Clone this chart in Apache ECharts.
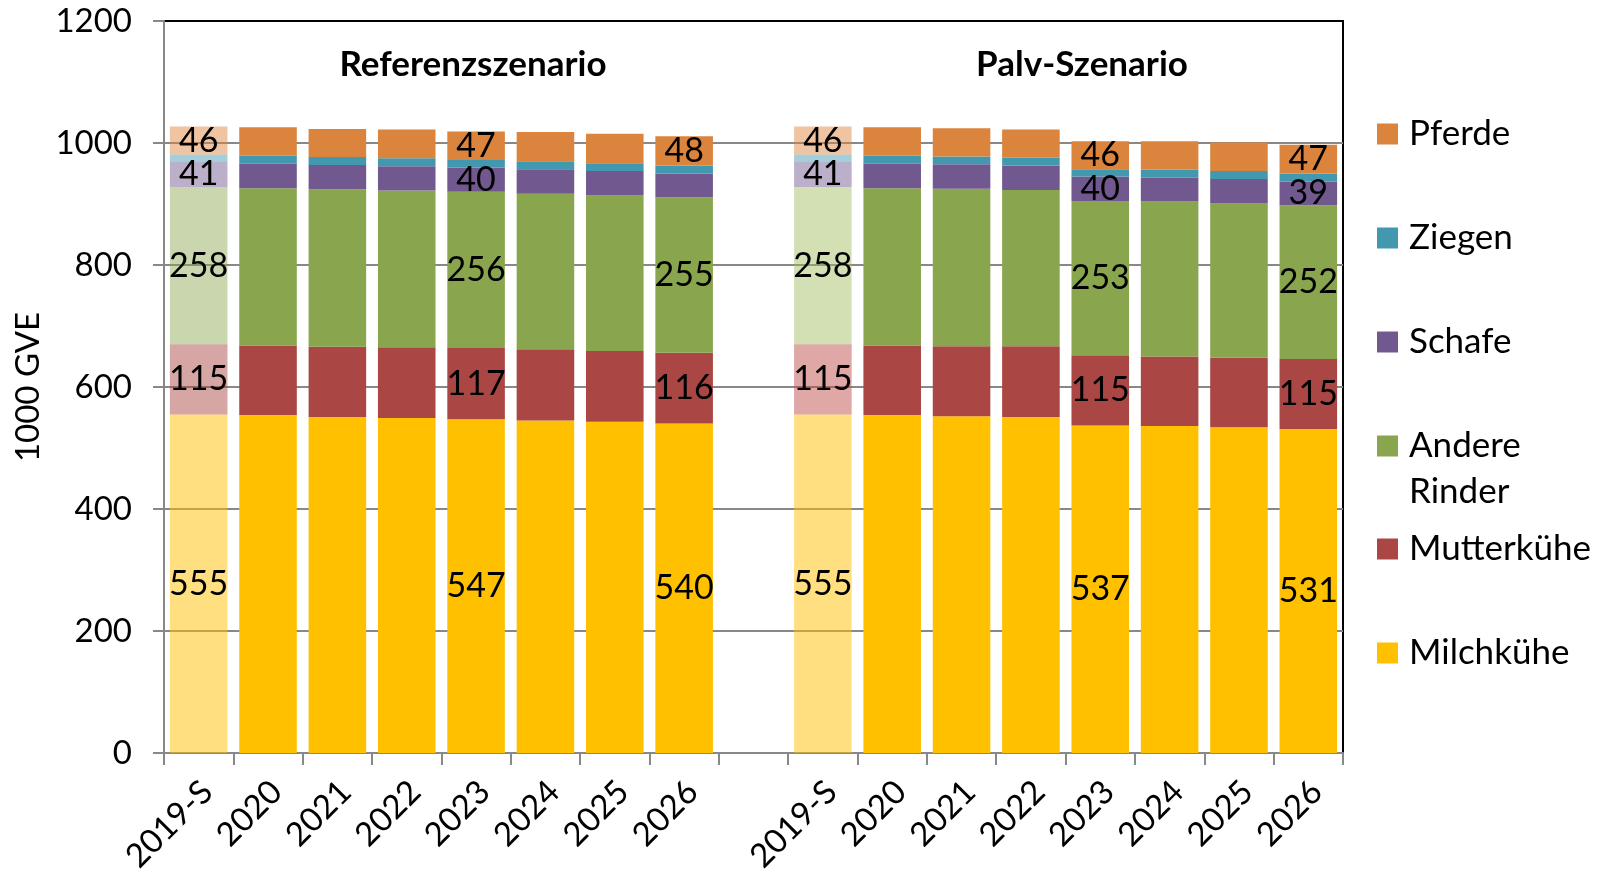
<!DOCTYPE html>
<html>
<head>
<meta charset="utf-8">
<title>GVE Referenz- und Palv-Szenario</title>
<script src="https://cdn.jsdelivr.net/npm/echarts@6/dist/echarts.min.js"></script>
<style>
  html, body { margin: 0; padding: 0; background: #fff; }
  #chart { width: 1608px; height: 875px; }
</style>
</head>
<body>
<div id="chart"></div>
<script>
// categories: two scenarios, empty slot between them
const categories = ['2019-S', '2020', '2021', '2022', '2023', '2024', '2025', '2026', '',
  '2019-S', '2020', '2021', '2022', '2023', '2024', '2025', '2026'];

// 1000 GVE per animal group
const milchkuehe = [555, 554, 551, 549, 547, 545, 543, 540, null, 555, 554, 552, 551, 537, 536, 534, 531];
const mutterkuehe = [115, 114, 115, 116, 117, 117, 116, 116, null, 115, 114, 115, 116, 115, 114, 114, 115];
const andereRinder = [258, 258, 258, 257, 256, 255, 255, 255, null, 258, 258, 258, 256, 253, 254, 253, 252];
const schafe = [41, 40, 40, 40, 40, 40, 40, 39, null, 41, 40, 40, 40, 40, 39, 40, 39];
const ziegen = [12, 13, 13, 13, 12, 13, 13, 13, null, 12, 13, 13, 13, 12, 13, 13, 13];
const pferde = [46, 47, 46, 47, 47, 48, 48, 48, null, 46, 47, 46, 46, 46, 47, 47, 47];

// which bars carry a value label
const labelIdx = [0, 4, 7, 9, 13, 16];
const schafeLabelIdx = [0, 4, 9, 13, 16];
const noLabels = [];
const baseYearIdx = [0, 9];

const FONT = 'Lato';

// name, values, colour, faded colour (ref 2019-S), faded colour (Palv 2019-S), labelled bars
const groups = [
  ['Milchkühe', milchkuehe, '#FFC000', 'rgba(255,192,0,0.5)', 'rgba(255,192,0,0.5)', labelIdx],
  ['Mutterkühe', mutterkuehe, '#AA4643', 'rgba(170,70,67,0.48)', 'rgba(192,80,77,0.5)', labelIdx],
  ['Andere Rinder', andereRinder, '#89A54E', 'rgba(137,165,78,0.46)', 'rgba(155,187,89,0.45)', labelIdx],
  ['Schafe', schafe, '#71588F', 'rgba(113,88,143,0.48)', 'rgba(113,88,143,0.48)', schafeLabelIdx],
  ['Ziegen', ziegen, '#4198AF', 'rgba(65,152,175,0.48)', 'rgba(65,152,175,0.48)', noLabels],
  ['Pferde', pferde, '#DB843D', 'rgba(219,132,61,0.48)', 'rgba(219,132,61,0.48)', labelIdx],
];

function buildData(values, faded, labelled) {
  return values.map(function (v, i) {
    if (v == null) return '-';
    const item = { value: v };
    const b = baseYearIdx.indexOf(i);
    if (b >= 0) item.itemStyle = { color: faded[b] };
    if (labelled.indexOf(i) >= 0) item.label = { show: true };
    return item;
  });
}

const series = groups.map(function (g) {
  return {
    name: g[0],
    type: 'bar',
    stack: 'gve',
    barCategoryGap: '17%',
    itemStyle: { color: g[2] },
    label: {
      show: false,
      position: 'inside',
      color: '#000',
      fontFamily: FONT,
      fontSize: 34,
    },
    data: buildData(g[1], [g[3], g[4]], g[5]),
  };
});

const legendText = {
  color: '#000',
  fontFamily: FONT,
  fontSize: 35,
  lineHeight: 46,
  padding: [0, 0, 0, 6],
};

const titleText = { fontFamily: FONT, fontSize: 35, fontWeight: 'bold', color: '#000' };

const chart = echarts.init(document.getElementById('chart'));
chart.setOption({
  animation: false,
  title: [
    {
      text: 'Referenzszenario', left: 473, top: 65, padding: 0,
      textAlign: 'center', textVerticalAlign: 'middle', textStyle: titleText,
    },
    {
      text: 'Palv-Szenario', left: 1082, top: 65, padding: 0,
      textAlign: 'center', textVerticalAlign: 'middle', textStyle: titleText,
    },
  ],
  legend: [
    {
      orient: 'vertical',
      left: 1377,
      top: 111,
      padding: 0,
      itemWidth: 21,
      itemHeight: 21,
      itemGap: 58,
      selectedMode: false,
      icon: 'rect',
      textStyle: legendText,
      formatter: function (name) {
        return name === 'Andere Rinder' ? 'Andere\nRinder' : name;
      },
      data: [
        'Pferde', 'Ziegen', 'Schafe',
        { name: 'Andere Rinder', textStyle: { height: 46, rich: { r: { fontFamily: FONT, fontSize: 35 } } } },
      ],
    },
    {
      orient: 'vertical',
      left: 1377,
      top: 526,
      padding: 0,
      itemWidth: 21,
      itemHeight: 21,
      itemGap: 58,
      selectedMode: false,
      icon: 'rect',
      textStyle: legendText,
      data: ['Mutterkühe', 'Milchkühe'],
    },
  ],
  grid: {
    left: 164,
    right: 265,
    top: 21,
    bottom: 122,
    outerBoundsMode: 'none',
    show: true,
    borderColor: '#000',
    borderWidth: 2,
    backgroundColor: 'transparent',
  },
  xAxis: {
    type: 'category',
    data: categories,
    axisLine: { lineStyle: { color: '#888', width: 2 } },
    axisTick: { show: true, interval: 0, length: 12, lineStyle: { color: '#888', width: 2 } },
    axisLabel: {
      interval: 0,
      rotate: 45,
      margin: 25,
      verticalAlign: 'top',
      lineHeight: 24,
      color: '#000',
      fontFamily: FONT,
      fontSize: 33,
    },
  },
  yAxis: {
    type: 'value',
    min: 0,
    max: 1200,
    interval: 200,
    name: '1000 GVE',
    nameLocation: 'middle',
    nameGap: 118,
    nameTextStyle: { color: '#000', fontFamily: FONT, fontSize: 33 },
    axisLine: { show: true, lineStyle: { color: '#888', width: 2 } },
    axisTick: { show: true, length: 11, lineStyle: { color: '#888', width: 2 } },
    axisLabel: {
      margin: 32,
      color: '#000',
      fontFamily: FONT,
      fontSize: 33,
      formatter: function (v) { return String(v); },
    },
    splitLine: { show: true, showMinLine: false, showMaxLine: false, lineStyle: { color: '#888', width: 2 } },
  },
  series: series,
});
</script>
</body>
</html>
